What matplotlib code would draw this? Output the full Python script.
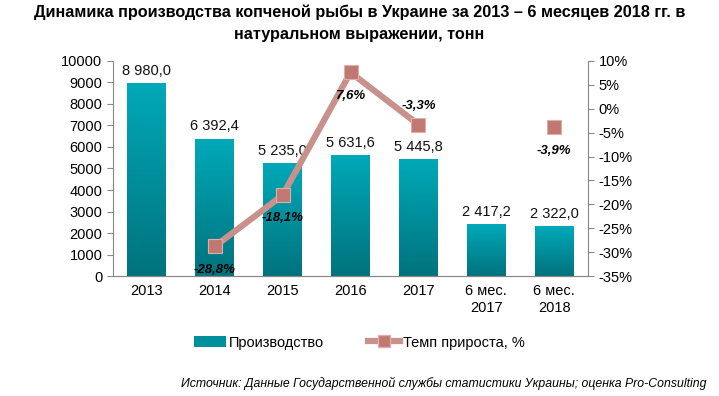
import numpy as np
import matplotlib.pyplot as plt
from matplotlib.colors import LinearSegmentedColormap
from matplotlib.patches import Patch
from matplotlib.lines import Line2D

plt.rcParams['font.family'] = ['Liberation Sans', 'DejaVu Sans']

# data
categories = ['2013', '2014', '2015', '2016', '2017', '6 мес.\n2017', '6 мес.\n2018']
production = [8980.0, 6392.4, 5235.0, 5631.6, 5445.8, 2417.2, 2322.0]
growth = [np.nan, -28.8, -18.1, 7.6, -3.3, np.nan, -3.9]
growth_pos = ['', 'below', 'below', 'below', 'above', '', 'below']


def fmt_num(v):
    s = f'{v:,.1f}'.replace(',', ' ').replace('.', ',')
    return s


fig = plt.figure(figsize=(7.19, 3.96), dpi=100)
ax = fig.add_axes([0.157, 0.303, 0.661, 0.543])
ax2 = ax.twinx()

x = np.arange(len(categories))
bars = ax.bar(x, production, width=0.57, color='none', edgecolor='none', zorder=2)

# gradient fill for bars
cmap = LinearSegmentedColormap.from_list('teal', ['#00737d', '#00a9b9'])
grad = np.linspace(0, 1, 256).reshape(-1, 1)
for b in bars:
    x0, y0 = b.get_x(), b.get_y()
    w, h = b.get_width(), b.get_height()
    im = ax.imshow(grad, extent=[x0, x0 + w, y0, y0 + h], origin='lower',
                   cmap=cmap, aspect='auto', zorder=2)
    im.set_clip_path(b)

for xi, v in zip(x, production):
    ax.text(xi, v + 250, fmt_num(v), ha='center', va='bottom', fontsize=10.5, color='#111111')

ax.set_xlim(-0.5, len(categories) - 0.5)
ax.set_ylim(0, 10000)
ax.set_yticks(np.arange(0, 10001, 1000))
ax.set_xticks(x)
ax.set_xticklabels(categories, fontsize=10.5)
ax.tick_params(axis='y', labelsize=10.5, length=4, color='#888888')
ax.tick_params(axis='x', length=0, pad=6)

# growth line (gap where data missing)
ax2.plot(x, growth, color='#c8918b', lw=4.5, marker='s', markersize=10.5,
         markerfacecolor='#c07870', markeredgecolor='#dcb0aa', markeredgewidth=0.8, zorder=3)
ax2.set_ylim(-35, 10)
ax2.set_yticks(np.arange(-35, 11, 5))
ax2.set_yticklabels([f'{t}%' for t in range(-35, 11, 5)])
ax2.tick_params(axis='y', labelsize=10.5, length=4, color='#888888')

for xi, g, pos in zip(x, growth, growth_pos):
    if np.isnan(g):
        continue
    lab = f'{g:.1f}%'.replace('.', ',')
    if pos == 'above':
        ax2.text(xi, g + 2.6, lab, ha='center', va='bottom', fontsize=9.5,
                 fontweight='bold', fontstyle='italic')
    else:
        ax2.text(xi, g - 3.6, lab, ha='center', va='top', fontsize=9.5,
                 fontweight='bold', fontstyle='italic')

for a in (ax, ax2):
    a.spines['top'].set_visible(False)
    a.spines['left'].set_color('#888888')
    a.spines['right'].set_color('#888888')
    a.spines['bottom'].set_color('#888888')
ax.spines['right'].set_visible(False)
ax2.spines['left'].set_visible(False)

fig.text(0.5, 0.968, 'Динамика производства копченой рыбы в Украине за 2013 – 6 месяцев 2018 гг. в',
         ha='center', va='center', fontsize=11.7, fontweight='bold')
fig.text(0.5, 0.912, 'натуральном выражении, тонн',
         ha='center', va='center', fontsize=11.7, fontweight='bold')

handles = [Patch(facecolor='#00909c', edgecolor='none'),
           Line2D([], [], color='#c8918b', lw=4.5, marker='s', markersize=8,
                  markerfacecolor='#c07870', markeredgecolor='#dcb0aa')]
fig.legend(handles, ['Производство', 'Темп прироста, %'], loc='center',
           bbox_to_anchor=(0.5, 0.135), ncol=2, frameon=False, fontsize=10.5,
           handlelength=2.2, handletextpad=0.2, columnspacing=3)

fig.text(0.982, 0.033, 'Источник: Данные Государственной службы статистики Украины; оценка Pro-Consulting',
         ha='right', va='center', fontsize=8.8, fontstyle='italic')

fig.savefig('out.png', dpi=100)
plt.close()
